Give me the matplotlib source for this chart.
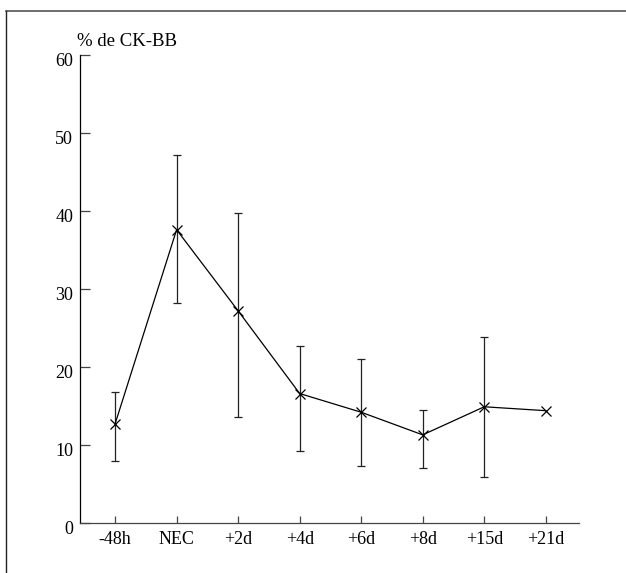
import numpy as np
import matplotlib
matplotlib.use("Agg")
import matplotlib.pyplot as plt
import matplotlib.transforms as mtransforms
from matplotlib.lines import Line2D

plt.rcParams['font.family'] = ['Liberation Serif', 'DejaVu Serif']

# data
labels = ['-48h', 'NEC', '+2d', '+4d', '+6d', '+8d', '+15d', '+21d']
means = [12.7, 37.6, 27.2, 16.6, 14.2, 11.3, 14.9, 14.4]
upper = [16.8, 47.2, 39.7, 22.7, 21.0, 14.5, 23.8, np.nan]
lower = [7.9, 28.2, 13.6, 9.2, 7.3, 7.0, 5.9, np.nan]

x = np.arange(1, len(labels) + 1)
means = np.array(means)
err_lo = means - np.array(lower)
err_hi = np.array(upper) - means

fig = plt.figure(figsize=(6.26, 5.73), dpi=100)
ax = fig.add_axes([80/626, 50/573, 499/626, 468/573])

ax.errorbar(x, means, yerr=[err_lo, err_hi], color='black', lw=0.9,
            marker='x', markersize=7, mew=0.9, capsize=3.2, capthick=0.9,
            ecolor='#222222', elinewidth=0.9)

ax.set_xlim(0.43, 8.54)
ax.set_ylim(0, 60)
ax.set_xticks(x)
ax.set_xticklabels(labels)
ax.set_yticks(np.arange(0, 61, 10))
ax.xaxis.set_tick_params(direction='in', length=5, width=0.9, labelsize=13,
                         pad=6, color='#444444')
ax.yaxis.set_tick_params(direction='in', length=7.5, width=0.9, labelsize=13,
                         pad=5, color='#444444')
for s in ['top', 'right']:
    ax.spines[s].set_visible(False)
ax.spines['left'].set_linewidth(0.9)
ax.spines['bottom'].set_linewidth(0.9)
ax.spines['bottom'].set_color('#444444')

# y numbers sit a little below their ticks in the original
shift = mtransforms.ScaledTranslation(0, -4/100, fig.dpi_scale_trans)
for lab in ax.get_yticklabels():
    lab.set_transform(lab.get_transform() + shift)

fig.text(77/626, 1 - 42/573, '% de CK-BB', fontsize=13.5, ha='left', va='center')

# frame lines round the figure (top and left only)
fig.add_artist(Line2D([6/626, 1], [1 - 11/573, 1 - 11/573], color='#555555', lw=1.2))
fig.add_artist(Line2D([6/626, 6/626], [0, 1 - 11/573], color='#222222', lw=1.0))

fig.savefig('out.png', dpi=100)
